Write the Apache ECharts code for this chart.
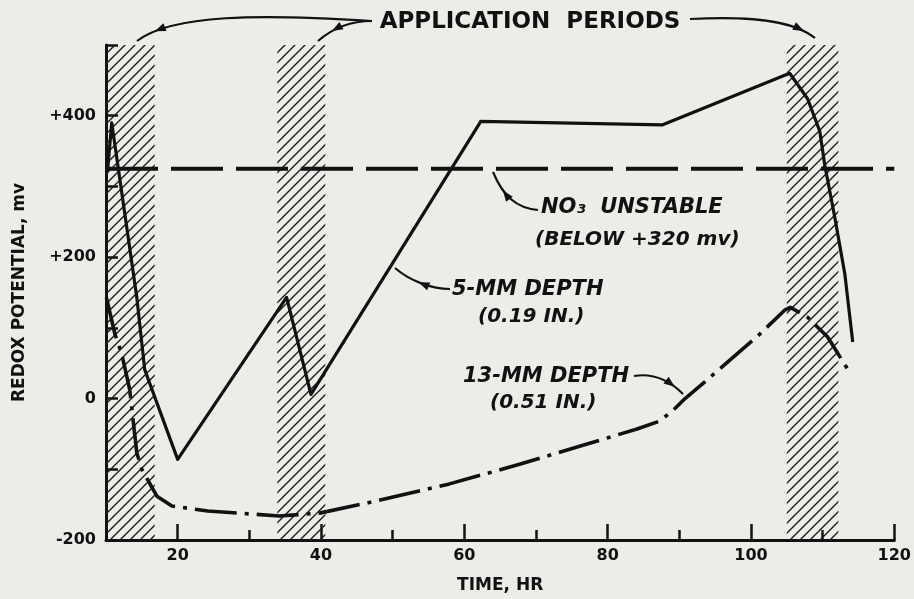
<!DOCTYPE html>
<html><head><meta charset="utf-8">
<script src="https://cdn.jsdelivr.net/npm/echarts@6/dist/echarts.min.js"></script>
<style>html,body{margin:0;padding:0;background:#ecece9;} #c{width:914px;height:599px;}</style>
</head><body><div id="c"></div>
<script>
// ---- data ----
const bandStart = [10, 33.9, 105];
const bandEnd = [16.8, 40.6, 112.2];

const time5mm  = [10.2, 10.8, 14.3, 15.4, 20, 35.2, 38.6, 62.3, 87.6, 105.4, 107.9, 109.6, 110.3, 111.7, 113.1, 114.2];
const redox5mm = [320, 390, 143, 41, -86, 143, 6, 392, 387, 460, 424, 378, 330, 256, 176, 80];

const time13mm  = [10.05, 11.25, 12.2, 13.3, 14.3, 15, 17.1, 19.2, 24.2, 34.2, 39.8, 46.3, 57.8, 67.7, 76.9, 84.1, 87.2, 89, 90.8, 93.6, 101.1, 104.7, 105.5, 107.9, 110.7, 113.9];
const redox13mm = [143, 91, 63, 13, -77, -100, -138, -152, -159, -166, -162, -148, -121, -93, -65, -43, -32, -18, 0, 24, 90, 125, 129, 115, 87, 35];

const no3Time = [10, 120];
const no3Level = [325, 325];

const xLabelValues = [20, 40, 60, 80, 100, 120];
const xMinorTicks = [30, 50, 70, 90, 110];
const yLabelValues = [-200, 0, 200, 400];

const X_MIN = 10, X_MAX = 120, Y_MIN = -200, Y_MAX = 500;
const INK = '#111111';
const FONT = 'DejaVu Sans';

function makeHatch() {
  const s = 10;
  const c = document.createElement('canvas');
  c.width = s; c.height = s;
  const g = c.getContext('2d');
  g.strokeStyle = '#1c1c1c';
  g.lineWidth = 1.4;
  g.beginPath();
  g.moveTo(0, s); g.lineTo(s, 0);
  g.moveTo(-2, 2); g.lineTo(2, -2);
  g.moveTo(s - 2, s + 2); g.lineTo(s + 2, s - 2);
  g.stroke();
  return c;
}
const hatchCanvas = makeHatch();

function bez(p, t) {
  const u = 1 - t;
  const x = u*u*u*p[0] + 3*u*u*t*p[2] + 3*u*t*t*p[4] + t*t*t*p[6];
  const y = u*u*u*p[1] + 3*u*u*t*p[3] + 3*u*t*t*p[5] + t*t*t*p[7];
  const dx = 3*u*u*(p[2]-p[0]) + 6*u*t*(p[4]-p[2]) + 3*t*t*(p[6]-p[4]);
  const dy = 3*u*u*(p[3]-p[1]) + 6*u*t*(p[5]-p[3]) + 3*t*t*(p[7]-p[5]);
  return [x, y, Math.atan2(dy, dx)];
}
function arrow(p, tHead) {
  const [hx, hy, a] = bez(p, tHead);
  const L = 11, W = 4.2;
  const bx = hx - L*Math.cos(a), by = hy - L*Math.sin(a);
  const b1 = [bx + W*Math.sin(a), by - W*Math.cos(a)];
  const b2 = [bx - W*Math.sin(a), by + W*Math.cos(a)];
  return [
    {type:'bezierCurve', silent:true, shape:{x1:p[0],y1:p[1],cpx1:p[2],cpy1:p[3],cpx2:p[4],cpy2:p[5],x2:p[6],y2:p[7]},
     style:{stroke:INK, lineWidth:2.2, fill:null}},
    {type:'polygon', silent:true, shape:{points:[[hx,hy], b1, b2]}, style:{fill:INK}}
  ];
}
function label(text, x, y, size, italic) {
  return {type:'text', silent:true, x:x, y:y,
    style:{text:text, fill:INK, font:(italic?'italic ':'') + 'bold ' + size + 'px "' + FONT + '"',
           textAlign:'left', textVerticalAlign:'middle'}};
}

const chart = echarts.init(document.getElementById('c'), null, {renderer:'canvas'});
const option = {
  backgroundColor: '#ecece9',
  animation: false,
  grid: {left:106, right:17, top:45, bottom:54, containLabel:false},
  xAxis: [{
    type:'value', min:X_MIN, max:X_MAX, interval:10,
    axisLine:{show:true, onZero:false, lineStyle:{color:INK, width:3}},
    axisTick:{show:true, inside:true, length:16, customValues:xLabelValues, lineStyle:{color:INK, width:2.5}},
    axisLabel:{show:true, customValues:xLabelValues, color:INK, fontSize:16, fontWeight:'bold', fontFamily:FONT, margin:8},
    splitLine:{show:false},
    name:'TIME, HR', nameLocation:'middle', nameGap:37,
    nameTextStyle:{color:INK, fontSize:17, fontWeight:'bold', fontFamily:FONT}
  }, {
    type:'value', min:X_MIN, max:X_MAX, position:'bottom', offset:0,
    axisLine:{show:false, onZero:false},
    axisTick:{show:true, inside:true, length:10, customValues:xMinorTicks, lineStyle:{color:INK, width:2.5}},
    axisLabel:{show:false}, splitLine:{show:false}
  }],
  yAxis: {
    type:'value', min:Y_MIN, max:Y_MAX, interval:100,
    axisLine:{show:true, onZero:false, lineStyle:{color:INK, width:3}},
    axisTick:{show:true, inside:true, length:12, lineStyle:{color:INK, width:2.5}},
    axisLabel:{show:true, customValues:yLabelValues, color:INK, fontSize:16, fontWeight:'bold', fontFamily:FONT, margin:10,
      formatter:function(v){ return v > 0 ? '+' + v : String(v); }},
    splitLine:{show:false},
    name:'REDOX POTENTIAL, mv', nameLocation:'middle', nameGap:78, nameRotate:90,
    nameTextStyle:{color:INK, fontSize:17, fontWeight:'bold', fontFamily:FONT}
  },
  series: [
    {
      type:'custom', silent:true, z:1,
      dimensions:['start','end'], encode:{x:[0,1]},
      data: bandStart.map(function(s, i){ return [s, bandEnd[i]]; }),
      renderItem: function(params, api) {
        const p0 = api.coord([api.value(0), Y_MAX]);
        const p1 = api.coord([api.value(1), Y_MIN]);
        return {type:'rect', shape:{x:p0[0], y:p0[1], width:p1[0]-p0[0], height:p1[1]-p0[1]},
                style:{fill:{image:hatchCanvas, repeat:'repeat'}, stroke:null}};
      }
    },
    {
      type:'line', name:'NO3 unstable', z:3, silent:true, showSymbol:false,
      data: no3Time.map(function(t, i){ return [t, no3Level[i]]; }),
      lineStyle:{color:INK, width:4, type:[52, 13]}
    },
    {
      type:'line', name:'5-MM DEPTH', z:4, silent:true, showSymbol:false,
      data: time5mm.map(function(t, i){ return [t, redox5mm[i]]; }),
      lineStyle:{color:INK, width:3.2, join:'round'}
    },
    {
      type:'line', name:'13-MM DEPTH', z:4, silent:true, showSymbol:false,
      data: time13mm.map(function(t, i){ return [t, redox13mm[i]]; }),
      lineStyle:{color:INK, width:3.6, type:[42, 8, 4, 8]}
    }
  ],
  graphic: [
    {type:'text', silent:true, x:530, y:22,
     style:{text:'APPLICATION  PERIODS', fill:INK, font:'bold 23px "' + FONT + '"', textAlign:'center', textVerticalAlign:'middle'}},
    ...arrow([372,21, 260,14, 172,14, 137,41], 0.86),
    ...arrow([372,21, 352,21, 334,27, 318,41], 0.72),
    ...arrow([690,19, 745,16, 792,19, 815,38], 0.86),
    label('NO\u2083  UNSTABLE', 541, 208, 21, true),
    label('(BELOW +320 mv)', 535, 240, 20, true),
    ...arrow([538,210, 516,208, 503,196, 493,172], 0.7),
    label('5-MM DEPTH', 452, 290, 21, true),
    label('(0.19 IN.)', 478, 317, 20, true),
    ...arrow([450,289, 432,289, 410,281, 395,268], 0.55),
    label('13-MM DEPTH', 463, 377, 21, true),
    label('(0.51 IN.)', 490, 403, 20, true),
    ...arrow([634,376, 652,373, 668,379, 683,394], 0.82)
  ]
};
chart.setOption(option);
</script>
</body></html>
